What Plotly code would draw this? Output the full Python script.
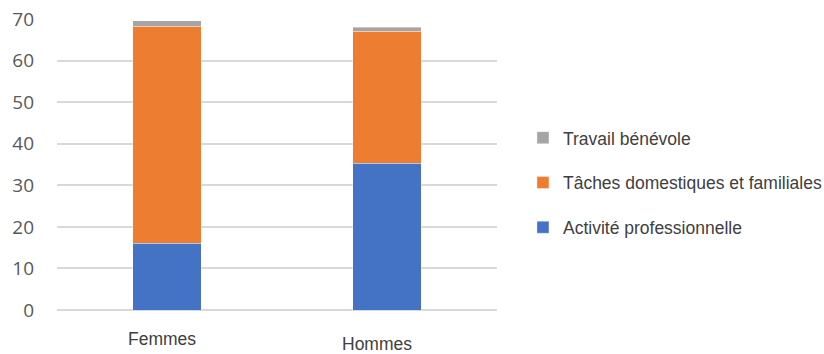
import plotly.graph_objects as go

categories = ["Femmes", "Hommes"]
activite_pro = [16.0, 35.3]
taches_dom = [52.3, 31.7]
benevole = [1.3, 1.0]
y_ticks = [0, 10, 20, 30, 40, 50, 60, 70]

series = [
    ("Activité professionnelle", activite_pro, "#4472C4"),
    ("Tâches domestiques et familiales", taches_dom, "#ED7D31"),
    ("Travail bénévole", benevole, "#A5A5A5"),
]

fig = go.Figure()
for i, (name, vals, color) in enumerate(series):
    fig.add_trace(go.Bar(
        x=categories, y=vals, name=name, legendgroup=f"g{i}",
        legendrank=3 - i,
        marker=dict(color=color, line=dict(color="rgba(255,255,255,0.6)", width=0.6)),
        width=0.31,
    ))

label_y = [-0.0997, -0.1168]
label_shift = [-5, -10]
for c, yy, sh in zip(categories, label_y, label_shift):
    fig.add_annotation(x=c, y=yy, xref="x", yref="paper", text=c, showarrow=False,
                       xshift=sh, yanchor="middle",
                       font=dict(family="Liberation Sans", size=17.5, color="#404040"))

fig.update_layout(
    width=824, height=354,
    margin=dict(l=57, r=327, t=19, b=44, autoexpand=False),
    barmode="stack",
    plot_bgcolor="white", paper_bgcolor="white",
    showlegend=True,
    legend=dict(x=1.059, y=0.437, xanchor="left", yanchor="middle",
                traceorder="grouped", tracegroupgap=19,
                font=dict(family="Liberation Sans", size=17.5, color="#404040")),
    xaxis=dict(showticklabels=False, showgrid=False, zeroline=False, showline=False,
               automargin=False),
    yaxis=dict(range=[0, 70], tickvals=y_ticks, showgrid=True, gridcolor="#d9d9d9",
               gridwidth=1.5, zeroline=True, zerolinecolor="#d9d9d9", zerolinewidth=1.5,
               showline=False, ticklabelstandoff=22, automargin=False,
               tickfont=dict(family="Open Sans", size=19, color="#595959")),
)

fig.write_html("out.html")
